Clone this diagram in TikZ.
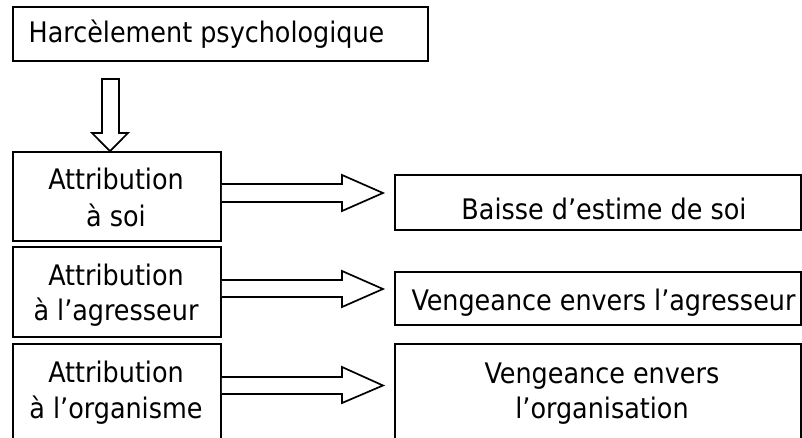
\documentclass[tikz,border=0pt]{standalone}
\usepackage{fontspec}
\setmainfont{DejaVu Sans Condensed}
\usetikzlibrary{calc}
\begin{document}
\begin{tikzpicture}[x=1pt,y=-1pt,
  box/.style={draw, line width=1.7pt, inner sep=0pt, rectangle},
  txt/.style={inner sep=0pt, anchor=base, font=\fontsize{28.3}{36}\selectfont},
  barrow/.style={draw, line width=1.7pt, line join=miter, fill=white}]
\useasboundingbox (0,0) rectangle (802,438);
% boxes
\node[box, minimum width=415pt, minimum height=54pt] (top) at (220.5,34) {};
\node[box, minimum width=208pt, minimum height=89pt] (a1) at (117,196.5) {};
\node[box, minimum width=208pt, minimum height=90pt] (a2) at (117,292) {};
\node[box, minimum width=208pt, minimum height=110pt, anchor=north] (a3) at (117,343) {};
\node[box, minimum width=406pt, minimum height=55pt] (r1) at (598,202.5) {};
\node[box, minimum width=406pt, minimum height=53pt] (r2) at (598,298.5) {};
\node[box, minimum width=406pt, minimum height=110pt, anchor=north] (r3) at (598,343) {};
% texts
\node[txt] (ttop) at (206.5,43) {Harcèlement psychologique};
\node[txt] (t1a) at (116,190) {Attribution};
\node[txt] (t1b) at (116,226) {à soi};
\node[txt] (t2a) at (116,285) {Attribution};
\node[txt] (t2b) at (116,320) {à l’agresseur};
\node[txt] (t3a) at (116,382) {Attribution};
\node[txt] (t3b) at (116,418) {à l’organisme};
\node[txt] (tr1) at (604,220) {Baisse d’estime de soi};
\node[txt] (tr2) at (603.5,310) {Vengeance envers l’agresseur};
\node[txt] (tr3a) at (602,383) {Vengeance envers};
\node[txt] (tr3b) at (602,418) {l’organisation};
% down block arrow
\coordinate (dtip) at (a1.north -| 110,0);
\draw[barrow] (102,79) -- (119,79) -- (119,133) -- (128,133) -- (dtip) -- (92,133) -- (102,133) -- cycle;
% right block arrows
\draw[barrow] (a1.east |- 0,184) -- (342,184) -- (342,175) -- (383,193) -- (342,211) -- (342,202) -- (a1.east |- 0,202);
\draw[barrow] (a2.east |- 0,280) -- (342,280) -- (342,271) -- (383,289) -- (342,307) -- (342,297) -- (a2.east |- 0,297);
\draw[barrow] (a3.east |- 0,377) -- (342,377) -- (342,367) -- (383,385.5) -- (342,403) -- (342,394) -- (a3.east |- 0,394);
\end{tikzpicture}
\end{document}
